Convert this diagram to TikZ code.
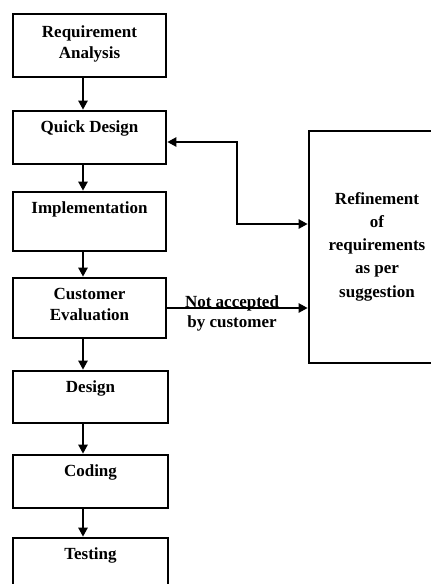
\documentclass[tikz,border=0pt]{standalone}
\usepackage{fontspec}
\setmainfont{Liberation Serif}
\usetikzlibrary{arrows.meta}
\begin{document}
\begin{tikzpicture}[x=1pt,y=-1pt,line width=2.6pt,>={Triangle[length=9pt,width=9pt]},
	stage/.style={draw,minimum width=153pt,inner sep=0pt},
	stagetext/.style={anchor=north,yshift=-10pt,align=center,font=\bfseries\fontsize{17}{21}\selectfont,inner sep=0pt},
	conn/.style={->}]
		\useasboundingbox (0,0) rectangle (431,584);
		\node [stage,minimum height=63pt] (ra) at (89.5,45.5) {};
		\node [stage,minimum height=53pt] (qd) at (89.5,137.5) {};
		\node [stage,minimum height=59pt] (impl) at (89.5,221.5) {};
		\node [stage,minimum height=60pt] (ce) at (89.5,308) {};
		\node [stage,minimum width=155pt,minimum height=52pt] (des) at (90.5,397) {};
		\node [stage,minimum width=155pt,minimum height=53pt] (cod) at (90.5,481.5) {};
		\node [stage,minimum width=155pt,minimum height=53pt] (test) at (90.5,564.5) {};
		\node [draw,minimum width=136pt,minimum height=232pt] (ref) at (377,247) {};
		\node [stagetext,yshift=-2pt] (ratext) at (ra.north) {Requirement\\Analysis};
		\node [stagetext] (qdtext) at (qd.north) {Quick Design};
		\node [stagetext] (impltext) at (impl.north) {Implementation};
		\node [stagetext] (cetext) at (ce.north) {Customer\\Evaluation};
		\node [stagetext] (destext) at (des.north) {Design};
		\node [stagetext] (codtext) at (cod.north) {Coding};
		\node [stagetext] (testtext) at (test.north) {Testing};
		\node [stagetext,anchor=center,yshift=0pt,font=\bfseries\fontsize{17}{23.3}\selectfont] (reftext) at (377,236.5) {Refinement\\of\\requirements\\as per\\suggestion};
		\coordinate (ax) at (83,0);
		\coordinate (bend) at (237,0);
		\coordinate (qdin) at ([yshift=-4.5pt]qd.east);
		\coordinate (refin) at ([yshift=23pt]ref.west);
		\draw [conn] (ra.south -| ax) -- (qd.north -| ax);
		\draw [conn] (qd.south -| ax) -- (impl.north -| ax);
		\draw [conn] (impl.south -| ax) -- (ce.north -| ax);
		\draw [conn] (ce.south -| ax) -- (des.north -| ax);
		\draw [conn] (des.south -| ax) -- (cod.north -| ax);
		\draw [conn] (cod.south -| ax) -- (test.north -| ax);
		\draw [<->] (qdin) -| (bend |- refin) -- (refin);
		\draw [conn] (ce.east) -- (ce.east -| ref.west);
		\node [stagetext,anchor=center,yshift=0pt,font=\bfseries\fontsize{17}{20}\selectfont] (na) at (232,303) {Not accepted\\by customer};
	\end{tikzpicture}
\end{document}
